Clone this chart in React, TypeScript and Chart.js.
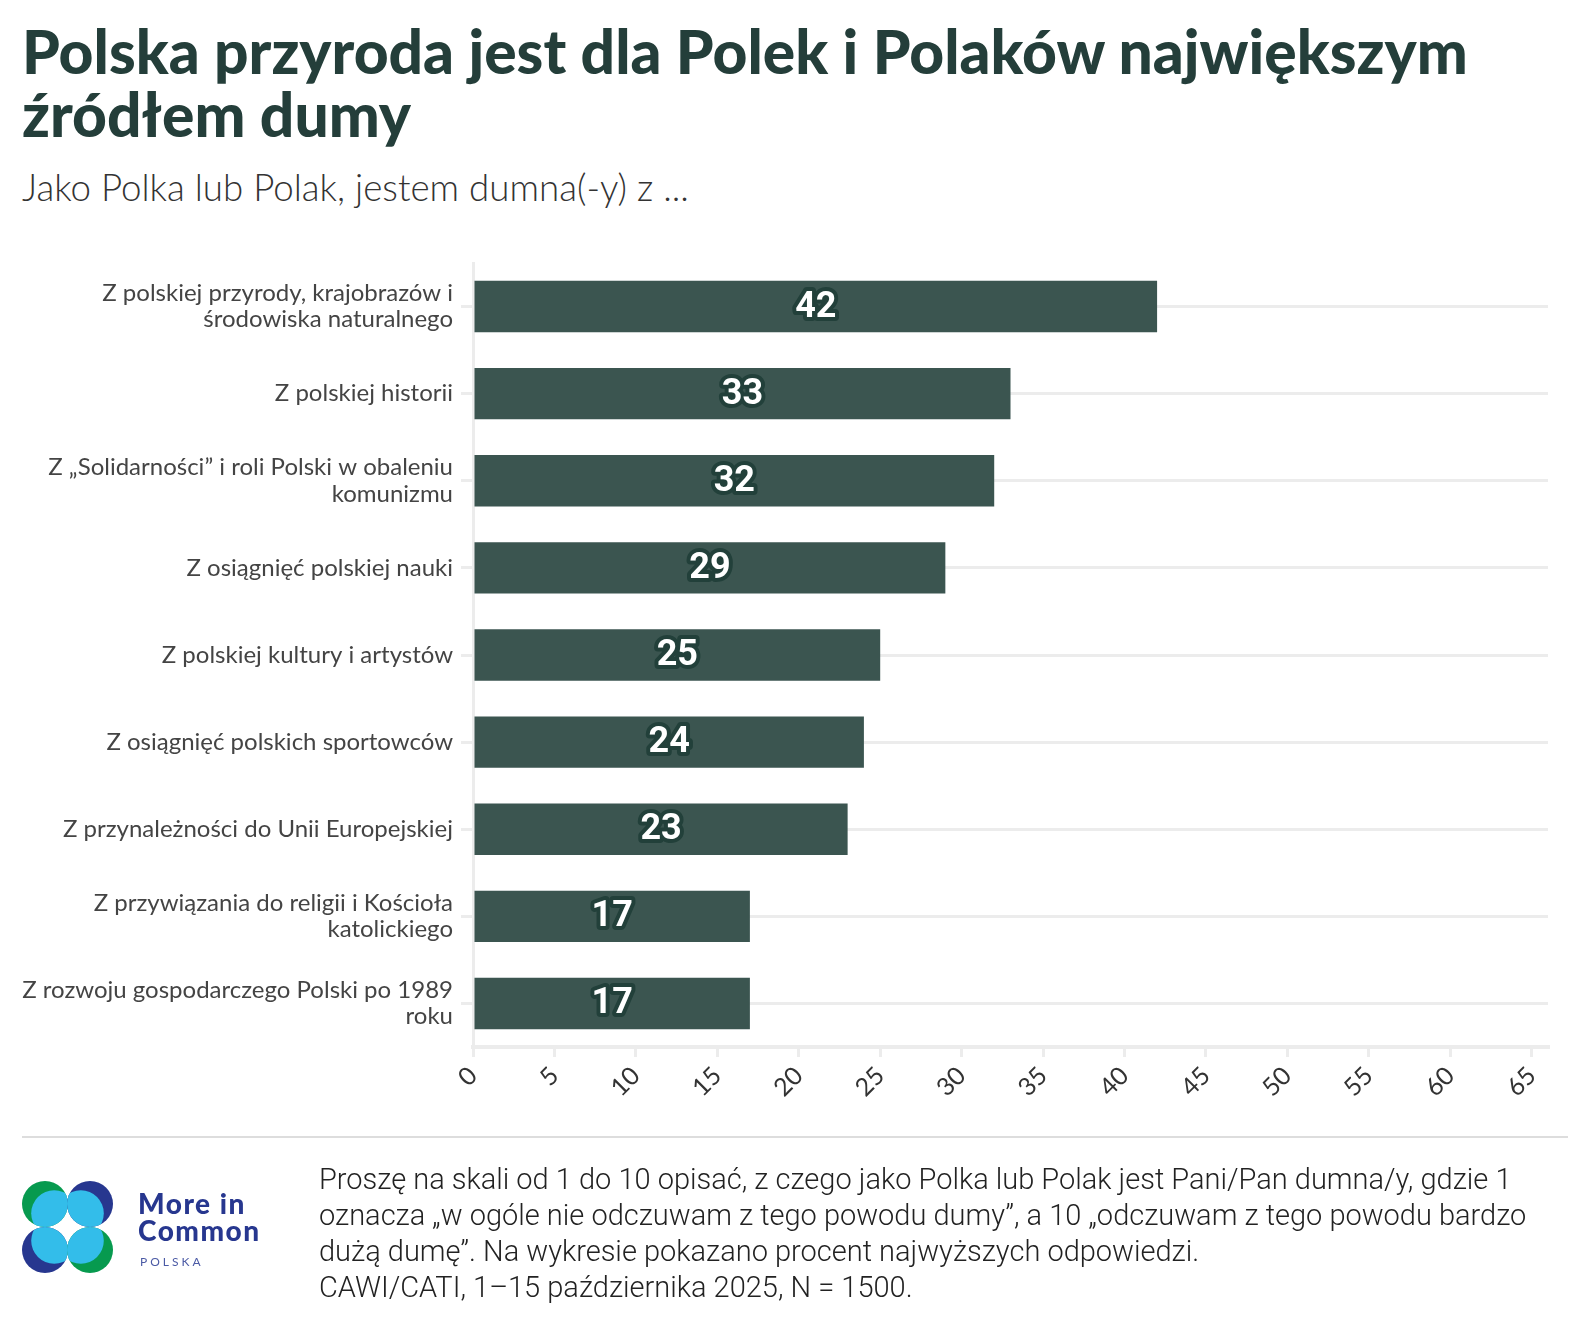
import React, { useEffect, useRef } from "react";
import { Chart, registerables } from "chart.js";

Chart.register(...registerables);

const categories: string[][] = [
  ["Z polskiej przyrody, krajobrazów i", "środowiska naturalnego"],
  ["Z polskiej historii"],
  ["Z „Solidarności” i roli Polski w obaleniu", "komunizmu"],
  ["Z osiągnięć polskiej nauki"],
  ["Z polskiej kultury i artystów"],
  ["Z osiągnięć polskich sportowców"],
  ["Z przynależności do Unii Europejskiej"],
  ["Z przywiązania do religii i Kościoła", "katolickiego"],
  ["Z rozwoju gospodarczego Polski po 1989", "roku"],
];
const values: number[] = [42, 33, 32, 29, 25, 24, 23, 17, 17];
const xTicks: number[] = [0, 5, 10, 15, 20, 25, 30, 35, 40, 45, 50, 55, 60, 65];
const xMax = 66;

const titleLines = ["Polska przyroda jest dla Polek i Polaków największym", "źródłem dumy"];
const subtitle = "Jako Polka lub Polak, jestem dumna(-y) z ...";
const noteLines = [
  "Proszę na skali od 1 do 10 opisać, z czego jako Polka lub Polak jest Pani/Pan dumna/y, gdzie 1",
  "oznacza „w ogóle nie odczuwam z tego powodu dumy”, a 10 „odczuwam z tego powodu bardzo",
  "dużą dumę”. Na wykresie pokazano procent najwyższych odpowiedzi.",
  "CAWI/CATI, 1–15 października 2025, N = 1500.",
];

const BAR = "#3b5550";
const GRID = "#ececec";

const valueLabels = {
  id: "valueLabels",
  afterDatasetsDraw(chart: any) {
    const ctx = chart.ctx;
    const meta = chart.getDatasetMeta(0);
    ctx.save();
    ctx.font = "bold 36px Roboto";
    ctx.textAlign = "center";
    ctx.textBaseline = "middle";
    ctx.lineJoin = "round";
    ctx.lineWidth = 8;
    ctx.strokeStyle = "#22403a";
    ctx.fillStyle = "#ffffff";
    meta.data.forEach((bar: any, i: number) => {
      const x = (bar.x + bar.base) / 2;
      const y = bar.y + 1;
      const t = String(values[i]);
      ctx.strokeText(t, x, y);
      ctx.fillText(t, x, y);
    });
    ctx.restore();
  },
};

function Logo() {
  const r = 23;
  const circles = [
    { cx: 45, cy: 1204, c: "#079a4f", dx: 1, dy: 1 },
    { cx: 90, cy: 1204, c: "#27378f", dx: -1, dy: 1 },
    { cx: 45, cy: 1250, c: "#27378f", dx: 1, dy: -1 },
    { cx: 90, cy: 1250, c: "#079a4f", dx: -1, dy: -1 },
  ];
  const off = 0.4 * r;
  return (
    <svg width={1588} height={1326} style={{ position: "absolute", left: 0, top: 0, pointerEvents: "none" }}>
      <defs>
        {circles.map((k, i) => (
          <clipPath id={"lc" + i} key={i}>
            <circle cx={k.cx} cy={k.cy} r={r} />
          </clipPath>
        ))}
      </defs>
      {circles.map((k, i) => (
        <g key={i}>
          <circle cx={k.cx} cy={k.cy} r={r} fill={k.c} />
          <circle cx={k.cx + k.dx * off} cy={k.cy + k.dy * off} r={r} fill="#33bdea" clipPath={`url(#lc${i})`} />
        </g>
      ))}
    </svg>
  );
}

export default function App() {
  const ref = useRef<HTMLCanvasElement | null>(null);

  useEffect(() => {
    if (!ref.current) return;
    const chart = new Chart(ref.current, {
      type: "bar",
      data: {
        labels: categories,
        datasets: [
          {
            data: values,
            backgroundColor: BAR,
            borderWidth: 0,
            barPercentage: 0.59,
            categoryPercentage: 1,
          },
        ],
      },
      options: {
        indexAxis: "y",
        animation: false,
        responsive: false,
        maintainAspectRatio: false,
        layout: { padding: { top: 13, right: 32, bottom: 0, left: 0 } },
        plugins: { legend: { display: false }, tooltip: { enabled: false } },
        scales: {
          x: {
            type: "linear",
            min: 0,
            max: xMax,
            afterBuildTicks: (s: any) => {
              s.ticks = xTicks.map((v) => ({ value: v }));
            },
            ticks: {
              minRotation: 45,
              maxRotation: 45,
              autoSkip: false,
              font: { family: "Lato", size: 25 },
              color: "#333333",
              padding: 4,
            },
            grid: { drawOnChartArea: false, drawTicks: true, tickLength: 10, color: GRID, lineWidth: 3 },
            border: { display: true, color: GRID, width: 4 },
            afterFit: (s: any) => {
              s.height = 62;
              s.paddingLeft = 0;
              s.paddingRight = 0;
            },
          },
          y: {
            grid: { offset: false, color: GRID, lineWidth: 3, tickLength: 12 },
            border: { display: true, color: GRID, width: 3 },
            ticks: {
              font: { family: "Lato", size: 24, lineHeight: 1.1 },
              color: "#444444",
              padding: 8,
            },
            afterFit: (s: any) => {
              s.width = 465;
              s.paddingTop = 0;
              s.paddingBottom = 0;
            },
          },
        },
      },
      plugins: [valueLabels],
    });
    return () => chart.destroy();
  }, []);

  return (
    <div style={{ position: "absolute", left: 0, top: 0, width: 1588, height: 1326, background: "#fff", overflow: "hidden" }}>
      <div
        style={{
          position: "absolute",
          left: 22,
          top: 19,
          fontFamily: "Lato",
          fontWeight: 900,
          fontSize: 60.5,
          lineHeight: "63px",
          color: "#243e3a",
          whiteSpace: "nowrap",
        }}
      >
        {titleLines.map((l, i) => (
          <div key={i}>{l}</div>
        ))}
      </div>
      <div
        style={{
          position: "absolute",
          left: 22,
          top: 165,
          fontFamily: "Lato",
          fontWeight: 300,
          fontSize: 36.7,
          lineHeight: "44px",
          color: "#333333",
          whiteSpace: "nowrap",
        }}
      >
        {subtitle}
      </div>
      <canvas ref={ref} width={1572} height={859} style={{ position: "absolute", left: 8, top: 250, width: 1572, height: 859 }} />
      <div style={{ position: "absolute", left: 22, top: 1136, width: 1546, height: 2, background: "#dddddd" }} />
      <Logo />
      <div
        style={{
          position: "absolute",
          left: 138,
          top: 1190,
          fontFamily: "Lato",
          fontWeight: 900,
          fontSize: 28,
          lineHeight: "27px",
          letterSpacing: 1.5,
          color: "#27378f",
        }}
      >
        <div>More in</div>
        <div>Common</div>
      </div>
      <div
        style={{
          position: "absolute",
          left: 140,
          top: 1254,
          fontFamily: "Lato",
          fontSize: 12,
          letterSpacing: 3,
          color: "#4b5aa5",
        }}
      >
        POLSKA
      </div>
      <div
        style={{
          position: "absolute",
          left: 319,
          top: 1161,
          fontFamily: "Roboto",
          fontWeight: 300,
          fontSize: 29,
          lineHeight: "36px",
          color: "#222222",
          whiteSpace: "nowrap",
        }}
      >
        {noteLines.map((l, i) => (
          <div key={i}>{l}</div>
        ))}
      </div>
    </div>
  );
}
